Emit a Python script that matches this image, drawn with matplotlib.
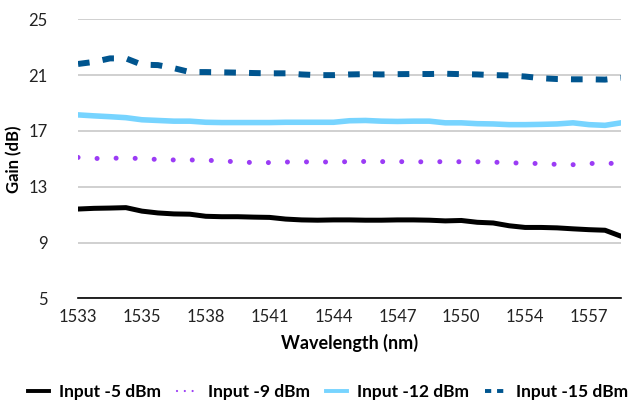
import numpy as np
import matplotlib
matplotlib.use('Agg')
from matplotlib import pyplot as plt

plt.rcParams['font.family'] = ['Lato', 'DejaVu Sans']

# wavelength tick labels (every 4th category shown)
wavelength_labels = ['1533', '1535', '1538', '1541', '1544', '1547', '1550', '1554', '1557']

# gain (dB) per category
gain_5dbm = [11.40, 11.45, 11.47, 11.50, 11.25, 11.12, 11.05, 11.03, 10.88, 10.85,
             10.85, 10.82, 10.80, 10.68, 10.62, 10.60, 10.62, 10.62, 10.60, 10.60,
             10.62, 10.62, 10.60, 10.55, 10.58, 10.45, 10.40, 10.20, 10.08, 10.08,
             10.05, 9.98, 9.92, 9.88, 9.45]
gain_9dbm = [15.10, 15.02, 15.05, 15.04, 15.03, 14.95, 14.92, 14.92, 14.90, 14.85,
             14.78, 14.73, 14.73, 14.77, 14.78, 14.78, 14.77, 14.80, 14.81, 14.80,
             14.80, 14.79, 14.78, 14.80, 14.79, 14.79, 14.76, 14.72, 14.68, 14.66,
             14.60, 14.58, 14.66, 14.70, 14.63]
gain_12dbm = [18.15, 18.08, 18.02, 17.95, 17.80, 17.75, 17.70, 17.70, 17.62, 17.60,
              17.60, 17.60, 17.60, 17.62, 17.62, 17.62, 17.62, 17.73, 17.75, 17.70,
              17.68, 17.70, 17.70, 17.58, 17.58, 17.52, 17.50, 17.45, 17.45, 17.47,
              17.50, 17.58, 17.45, 17.40, 17.58]
gain_15dbm = [21.80, 21.95, 22.20, 22.20, 21.75, 21.72, 21.50, 21.22, 21.22, 21.20,
              21.18, 21.15, 21.13, 21.13, 21.05, 21.00, 21.00, 21.05, 21.07, 21.05,
              21.07, 21.08, 21.08, 21.10, 21.07, 21.05, 21.00, 20.98, 20.90, 20.78,
              20.72, 20.70, 20.70, 20.68, 20.80]

x = np.arange(len(gain_5dbm))

fig = plt.figure(figsize=(6.38, 4.03), dpi=100)
ax = fig.add_axes([0.1223, 0.2598, 0.851, 0.6922])

ax.plot(x, gain_5dbm, color='black', lw=3.6, solid_joinstyle='round', label='Input -5 dBm')
ax.plot(x, gain_9dbm, color='#9B3CF5', lw=3.6, linestyle=(0, (0.01, 3.8)),
        dash_capstyle='round', label='Input -9 dBm')
ax.plot(x, gain_12dbm, color='#77D4FF', lw=4.0, solid_joinstyle='round', label='Input -12 dBm')
ax.plot(x, gain_15dbm, color='#00558F', lw=4.3, linestyle=(0, (1.95, 2.2)),
        dash_capstyle='butt', label='Input -15 dBm')

ax.set_xlim(0, len(x) - 1)
ax.set_ylim(5, 25)
ax.set_yticks([5, 9, 13, 17, 21, 25])
ax.set_xticks(x[::4])
ax.set_xticklabels(wavelength_labels)
ax.tick_params(axis='both', length=0, labelsize=12, colors='#222222')
ax.tick_params(axis='y', pad=22)
ax.tick_params(axis='x', pad=8)
ax.grid(axis='y', color='#C8C8C8', lw=1.2)
ax.set_axisbelow(True)
for s in ['top', 'right', 'left']:
    ax.spines[s].set_visible(False)
ax.spines['bottom'].set_color('black')
ax.spines['bottom'].set_linewidth(1.2)
ax.spines['bottom'].set_zorder(3)

ax.set_ylabel('Gain (dB)', fontsize=12, fontweight='bold', labelpad=4)
ax.set_xlabel('Wavelength (nm)', fontsize=13, fontweight='bold', labelpad=6)

leg = fig.legend(loc='lower center', bbox_to_anchor=(0.514, -0.032), ncol=4, frameon=False,
                 prop={'size': 12.5, 'weight': 'bold'}, handlelength=1.2, columnspacing=0.9,
                 handletextpad=0.6)
legend_widths = [2.8, 1.6, 2.8, 2.8]
for line, w in zip(leg.get_lines(), legend_widths):
    line.set_linewidth(w)
leg.get_lines()[1].set_linestyle((0, (0.01, 3.5)))
leg.get_lines()[3].set_linestyle((0, (1.6, 1.5)))

plt.savefig('out.png', dpi=100)
